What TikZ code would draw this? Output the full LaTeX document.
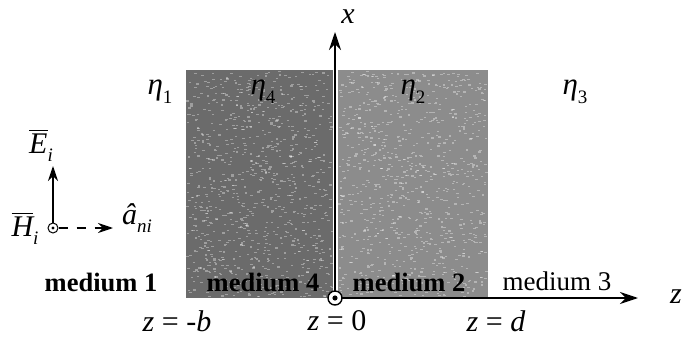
\documentclass[tikz,border=0pt]{standalone}
\usepackage{fontspec}
\setmainfont{Liberation Serif}
\usetikzlibrary{arrows.meta}
\newcommand{\mysub}[1]{\raisebox{-0.28em}{\fontsize{19}{19}\selectfont #1}}
\newcommand{\ovl}[1]{\leavevmode\setbox0=\hbox{#1}\vbox{\hrule height 1.3pt width \wd0\kern2.5pt\box0}}
\tikzset{
  slab/.style={draw=none, inner sep=0pt, anchor=north west},
  axis/.style={line width=1.6pt, -{Stealth[length=18pt,width=12pt]}},
  medlabel/.style={font=\fontsize{26.5}{29}\selectfont\bfseries, inner sep=1pt},
  medlabelr/.style={font=\fontsize{27}{30}\selectfont, inner sep=1pt},
  eqlabel/.style={font=\fontsize{30}{33}\selectfont\itshape, inner sep=1pt},
  etalabel/.style={font=\fontsize{31}{33}\selectfont\itshape, inner sep=1pt},
  speck/.style={fill=white, opacity=0.35},
  dotcirc/.style={circle, draw, fill=white, line width=1.4pt, inner sep=0pt},
}
\begin{document}
\begin{tikzpicture}[x=1pt,y=-1pt]
\useasboundingbox (0,0) rectangle (689,337);
% slabs
\node[slab, fill=black!58, minimum width=147pt, minimum height=228pt] (slab4) at (186,70) {};
\node[slab, fill=black!45, minimum width=150pt, minimum height=228pt] (slab2) at (338,70) {};
% halftone-like texture
\pgfmathsetseed{7}
\foreach \k in {1,...,900}{
  \pgfmathsetmacro{\px}{186+145*rnd}
  \pgfmathsetmacro{\py}{71+225*rnd}
  \fill[speck] (\px,\py) rectangle ++(2.5,1.2);
}
\foreach \k in {1,...,900}{
  \pgfmathsetmacro{\px}{338+148*rnd}
  \pgfmathsetmacro{\py}{71+225*rnd}
  \fill[speck] (\px,\py) rectangle ++(2.5,1.2);
}
% axes
\coordinate (O) at (335,298);
\coordinate (xtip) at (335,32);
\coordinate (ztip) at (638,298);
\draw[axis] (O) -- (xtip);
\draw[axis] (O) -- (ztip);
\node[dotcirc, minimum size=14pt] (odot) at (O) {};
\fill (odot.center) circle (2.6pt);
\node[eqlabel, inner sep=0pt] (xlab) at (348,17) {x};
\node[eqlabel] (zlab) at (676,297) {z};
% eta labels
\node[etalabel] (eta1) at (160,92) {η\mysub{\upshape 1}};
\node[etalabel] (eta4) at (263,92) {η\mysub{\upshape 4}};
\node[etalabel] (eta2) at (413,92) {η\mysub{\upshape 2}};
\node[etalabel] (eta3) at (575,92) {η\mysub{\upshape 3}};
% medium labels
\node[medlabel] (m1) at (101,282) {medium 1};
\node[medlabel] (m4) at (263,282) {medium 4};
\node[medlabel] (m2) at (409,282) {medium 2};
\node[medlabelr] (m3) at (557,281) {medium 3};
% position labels
\node[eqlabel] (zb) at (177,321) {z \textup{=} -b};
\node[eqlabel] (z0) at (337,321) {z \textup{= 0}};
\node[eqlabel] (zd) at (496,321) {z \textup{=} d};
% incident wave
\node[dotcirc, minimum size=10pt, line width=1pt] (hdot) at (53,228) {};
\fill (hdot.center) circle (1.7pt);
\coordinate (etip) at (53,166);
\draw[line width=1.2pt, -{Stealth[length=15pt,width=10pt]}] (hdot) -- (etip);
\coordinate (atip) at (113,228);
\draw[line width=1.2pt, dash pattern=on 9pt off 9pt, -{Stealth[length=15pt,width=10pt]}] (hdot) -- (atip);
\node[eqlabel] (elab) at (41,146) {\ovl{E}\mysub{i}};
\node[eqlabel] (hlab) at (25,229) {\ovl{H}\mysub{i}};
\node[eqlabel] (alab) at (137,218) {â\mysub{ni}};
\end{tikzpicture}
\end{document}
